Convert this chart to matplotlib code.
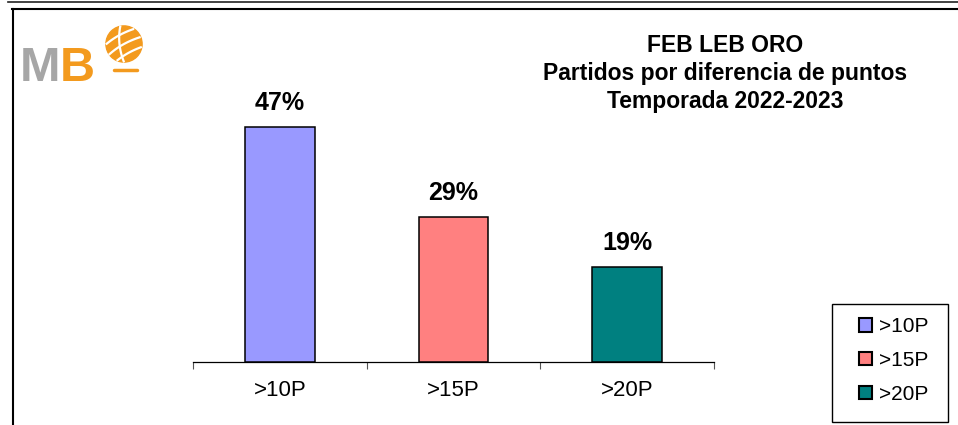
import matplotlib.pyplot as plt
import numpy as np
from matplotlib.lines import Line2D
from matplotlib.patches import Rectangle, Circle, Patch

# Data section
categories = ['>10P', '>15P', '>20P']
percentages = [47, 29, 19]
bar_colors = ['#9999FF', '#FF8080', '#008080']
title_lines = ['FEB LEB ORO', 'Partidos por diferencia de puntos', 'Temporada 2022-2023']

plt.rcParams['font.family'] = ['Liberation Sans', 'DejaVu Sans']

W, H = 958, 425
fig = plt.figure(figsize=(W / 100, H / 100), dpi=100)


def fx(px):
    return px / W


def fy(py):
    return 1 - py / H


# Frame lines (chart is cropped at right and bottom)
fig.add_artist(Line2D([fx(8), fx(958)], [fy(2), fy(2)], color='#222222', lw=1.2))
fig.add_artist(Line2D([fx(12), fx(958)], [fy(9), fy(9)], color='black', lw=1.5))
fig.add_artist(Line2D([fx(12.5), fx(12.5)], [fy(9), fy(425)], color='black', lw=1.5))

# Main bar axes
ax = fig.add_axes([fx(193), fy(362), fx(714) - fx(193), (362 - 112) / H])
x = np.arange(len(categories))
ax.bar(x, percentages, width=0.40, color=bar_colors, edgecolor='black', linewidth=1.1, zorder=3)
ax.set_xlim(-0.5, 2.5)
ax.set_ylim(0, 50)

for xi, v in zip(x, percentages):
    ax.annotate(f'{v}%', (xi, v), xytext=(0, 12.5), textcoords='offset points',
                ha='center', va='baseline', fontsize=18, fontweight='bold')

for side in ['top', 'right', 'left']:
    ax.spines[side].set_visible(False)
ax.spines['bottom'].set_linewidth(0.9)
ax.set_yticks([])
ax.set_xticks(x)
ax.set_xticklabels(categories, fontsize=16)
ax.tick_params(axis='x', which='major', length=0, pad=13)
ax.set_xticks([-0.5, 0.5, 1.5, 2.5], minor=True)
ax.tick_params(axis='x', which='minor', length=5, width=0.8, color='#555555', direction='out')
ax.patch.set_alpha(0)

# Title
for i, line in enumerate(title_lines):
    fig.text(fx(725), fy(52 + 28 * i), line, ha='center', va='baseline',
             fontsize=16.5, fontweight='bold')

# Logo "MB" with basketball
fig.text(fx(20), fy(81), 'M', color='#A6A6A6', fontsize=35, fontweight='bold', va='baseline', ha='left')
fig.text(fx(60), fy(81), 'B', color='#F39A1E', fontsize=35, fontweight='bold', va='baseline', ha='left')
fig.add_artist(Line2D([fx(114), fx(137)], [fy(70), fy(70)], color='#F39A1E', lw=2.5, solid_capstyle='round'))

lax = fig.add_axes([fx(105), fy(63), fx(38), 38 / H])
lax.set_xlim(-1.05, 1.05)
lax.set_ylim(-1.05, 1.05)
lax.set_aspect('equal')
lax.axis('off')
lax.add_patch(Circle((0, 0), 1, color='#F39A1E'))
t = np.linspace(-1.2, 1.2, 50)
for off in [-0.55, 0.0, 0.55]:
    xs = t * np.cos(0.5) - off * np.sin(0.5) + 0.08 * t ** 2
    ys = t * np.sin(0.5) + off * np.cos(0.5) - 0.08 * t ** 2
    m = xs ** 2 + ys ** 2 < 0.97
    lax.plot(xs[m], ys[m], color='white', lw=1.6)
xs2 = -0.25 + 0.15 * t ** 2 + t * np.cos(2.1) * 0.2
ys2 = t
m2 = xs2 ** 2 + ys2 ** 2 < 0.97
lax.plot(xs2[m2], ys2[m2], color='white', lw=1.6)

# Legend
handles = [Patch(facecolor=c, edgecolor='black', linewidth=1.5) for c in bar_colors]
fig.legend(handles, categories, loc='upper left', bbox_to_anchor=(fx(849), fy(307)),
           frameon=False, fontsize=15, borderpad=0, handlelength=0.6, handleheight=0.6,
           handletextpad=0.35, labelspacing=0.7)
fig.add_artist(Rectangle((fx(832), fy(422)), fx(948) - fx(832), (422 - 304) / H,
                         fill=False, edgecolor='black', lw=1.0))

fig.savefig('out.png', dpi=100)
